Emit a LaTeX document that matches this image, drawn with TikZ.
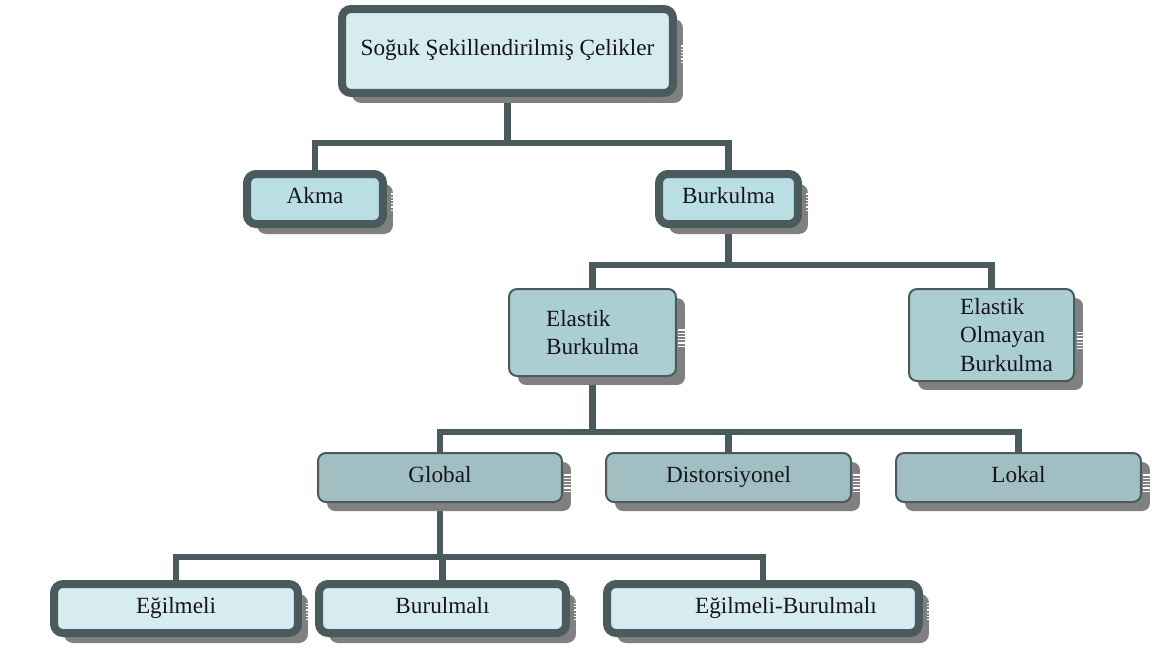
\documentclass[tikz,border=0pt]{standalone}
\usepackage{fontspec}
\setmainfont{Liberation Serif}
\usetikzlibrary{shadows,backgrounds}
\definecolor{bord}{HTML}{4A5B5D}
\definecolor{shad}{HTML}{808080}
\definecolor{fillA}{HTML}{D7ECF0}
\definecolor{fillB}{HTML}{B9DEE3}
\definecolor{fillC}{HTML}{ABCED3}
\definecolor{fillD}{HTML}{A1BFC2}
\definecolor{txtc}{HTML}{151520}
\begin{document}
\begin{tikzpicture}[x=0.02cm, y=-0.02cm,
  boxtext/.style={font=\fontsize{13.2}{16}\selectfont, text=txtc, inner sep=0pt, align=center},
  oneline/.style={text height=0.7em, text depth=0.16em},
  thickbox/.style={boxtext, draw=bord, line width=0.16cm, rounded corners=0.18cm,
    drop shadow={shadow xshift=0.2cm, shadow yshift=-0.2cm, fill=shad, opacity=1}},
  thinbox/.style={boxtext, draw=bord, line width=0.04cm, rounded corners=0.16cm,
    drop shadow={shadow xshift=0.18cm, shadow yshift=-0.18cm, fill=shad, opacity=1}},
  conn/.style={draw=bord, line width=0.13cm},
  stripe/.style={draw=white, line width=0.022cm}]
\useasboundingbox (0,0) rectangle (1152,653);

% level 0
\node[thickbox, oneline, fill=fillA, minimum width=6.62cm, minimum height=1.68cm] (top) at (507.5,51) {Soğuk Şekillendirilmiş Çelikler};
% level 1
\node[thickbox, oneline, fill=fillB, minimum width=2.72cm, minimum height=1.0cm] (akma) at (315,199) {Akma};
\node[thickbox, oneline, fill=fillB, minimum width=2.78cm, minimum height=1.0cm] (burk) at (728.5,199) {Burkulma};
% level 2
\node[thinbox, fill=fillC, minimum width=3.34cm, minimum height=1.74cm, align=left] (elas) at (592.5,332.5) {Elastik\\Burkulma};
\node[thinbox, fill=fillC, minimum width=3.30cm, minimum height=1.84cm, align=left] (olm) at (991.5,335) {\hspace*{0.6cm}Elastik\\\hspace*{0.6cm}Olmayan\\\hspace*{0.6cm}Burkulma};
% level 3
\node[thinbox, oneline, fill=fillD, minimum width=4.88cm, minimum height=0.98cm] (glob) at (440,477.5) {Global};
\node[thinbox, oneline, fill=fillD, minimum width=4.90cm, minimum height=0.98cm] (dist) at (728.5,477.5) {Distorsiyonel};
\node[thinbox, oneline, fill=fillD, minimum width=4.90cm, minimum height=0.98cm] (lok) at (1018.5,477.5) {Lokal};
% level 4
\node[thickbox, oneline, fill=fillA, minimum width=4.88cm, minimum height=0.98cm] (egil) at (176,608.5) {Eğilmeli};
\node[thickbox, oneline, fill=fillA, minimum width=4.94cm, minimum height=0.98cm] (bur) at (442.5,608.5) {Burulmalı};
\node[thickbox, oneline, fill=fillA, minimum width=6.24cm, minimum height=0.98cm] (eb) at (763,608.5) {\hspace*{0.92cm}Eğilmeli-Burulmalı};

% stacked-page stripes on the shadows
\foreach \n in {top,akma,burk,egil,bur,eb}
  \foreach \k in {0,...,5}
    \draw[stripe] ([xshift=0.09cm, yshift=0.1cm-\k*0.065cm]\n.east) -- ++(0.14cm,0);
\foreach \n in {elas,olm,glob,dist,lok}
  \foreach \k in {0,...,5}
    \draw[stripe] ([xshift=0.03cm, yshift=0.05cm-\k*0.065cm]\n.east) -- ++(0.17cm,0);

\begin{scope}[on background layer]
\coordinate (b1) at (top.south |- 0,143);
\coordinate (b2) at (burk.south |- 0,265);
\coordinate (b3) at (elas.south |- 0,432);
\coordinate (b3d) at (dist.north |- 0,432);
\coordinate (b4) at (glob.south |- 0,557);
\coordinate (b4b) at (bur.north |- 0,557);
\draw[conn] (top.south) -- (b1);
\draw[conn] (akma.north) |- (b1) -| (burk.north);
\draw[conn] (burk.south) -- (b2);
\draw[conn] (elas.north) |- (b2) -| (olm.north);
\draw[conn] (elas.south) -- (b3);
\draw[conn] (glob.north) |- (b3) -| (lok.north);
\draw[conn] (dist.north) -- (b3d);
\draw[conn] (glob.south) -- (b4);
\draw[conn] (egil.north) |- (b4) -| (eb.north);
\draw[conn] (bur.north) -- (b4b);
\end{scope}
\end{tikzpicture}
\end{document}
